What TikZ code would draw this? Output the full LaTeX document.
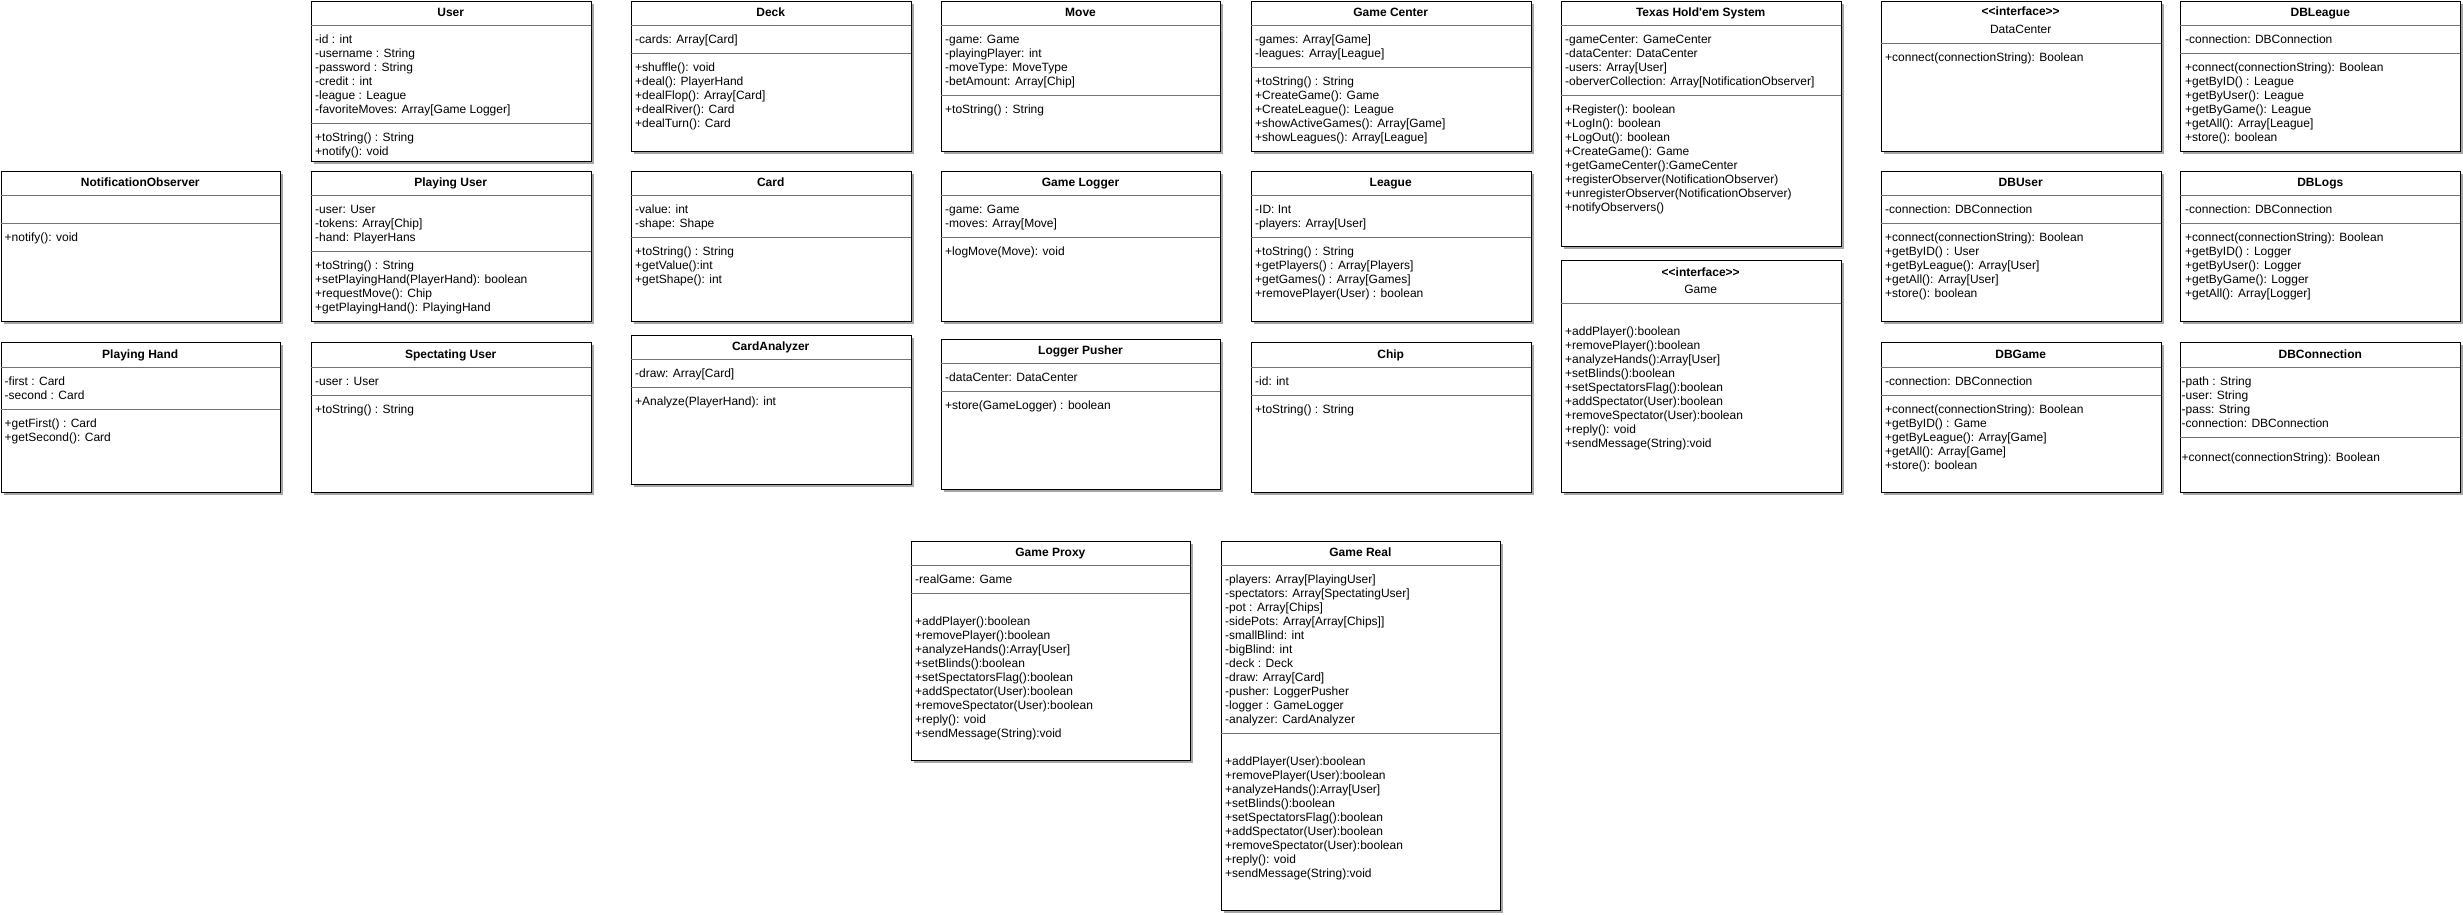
\documentclass[tikz,border=0pt]{standalone}
\usepackage{fontspec}
\setmainfont{Liberation Sans}
\begin{document}
\begin{tikzpicture}[x=1pt,y=-1pt,
  boxst/.style={draw=black,line width=1pt,fill=white,inner sep=0pt,rectangle},
  shadowc/.style={fill=black!35},
  sepst/.style={draw=black!55,line width=0.8pt},
  titlest/.style={anchor=base,inner sep=0pt,font=\fontsize{12}{14}\selectfont\bfseries},
  namest/.style={anchor=base,inner sep=0pt,font=\fontsize{12}{14}\selectfont},
  txtst/.style={anchor=base west,inner sep=0pt,font=\fontsize{12}{14}\selectfont}]
\newcommand\ubox[5]{%
  \fill[shadowc] ({#2+3},{#3+3}) rectangle ({#4+3},{#5+3});
  \node[boxst,anchor=north west,minimum width={#4-#2},minimum height={#5-#3}] (#1) at (#2,#3) {};}
\newcommand\usep[3]{\draw[sepst] (#1,#3) -- (#2,#3);}
\newcommand\utitle[5]{\node[titlest] (#1-t) at ({(#2+#3)/2},{#4+4.2}) {#5};}
\newcommand\ulines[4]{%
  \foreach \mytxt [count=\c] in {#4} {\node[txtst] (#1-\c) at (#2,{#3+4.2+(\c-1)*14}) {\mytxt};}}

\fill[white] (0,0) rectangle (2463,914);
\useasboundingbox (0,0) rectangle (2463,914);

% ---------------- Row 1 ----------------
% User
\ubox{user}{310.7}{0.5}{590.7}{160.7}
\utitle{user}{310.7}{590.7}{12.2}{User}
\usep{310.7}{590.7}{25.3}
\ulines{user-a}{315}{39.3}{{-id : int},{-username : String},{-password : String},{-credit : int},{-league : League},{-favoriteMoves: Array[Game Logger]}}
\usep{310.7}{590.7}{123.3}
\ulines{user-m}{315}{137.3}{{+toString() : String},{+notify(): void}}

% Deck
\ubox{deck}{630.7}{0.5}{910.7}{150.7}
\utitle{deck}{630.7}{910.7}{12.2}{Deck}
\usep{630.7}{910.7}{25.3}
\ulines{deck-a}{635}{39.3}{{-cards: Array[Card]}}
\usep{630.7}{910.7}{53.3}
\ulines{deck-m}{635}{67.3}{{+shuffle(): void},{+deal(): PlayerHand},{+dealFlop(): Array[Card]},{+dealRiver(): Card},{+dealTurn(): Card}}

% Move
\ubox{move}{940.7}{0.5}{1220.3}{150.7}
\utitle{move}{940.7}{1220.3}{12.2}{Move}
\usep{940.7}{1220.3}{25.3}
\ulines{move-a}{945}{39.3}{{-game: Game},{-playingPlayer: int},{-moveType: MoveType},{-betAmount: Array[Chip]}}
\usep{940.7}{1220.3}{95.3}
\ulines{move-m}{945}{109.3}{{+toString() : String}}

% Game Center
\ubox{gc}{1250.7}{0.5}{1530.7}{150.7}
\utitle{gc}{1250.7}{1530.7}{12.2}{Game Center}
\usep{1250.7}{1530.7}{25.3}
\ulines{gc-a}{1255}{39.3}{{-games: Array[Game]},{-leagues: Array[League]}}
\usep{1250.7}{1530.7}{67.3}
\ulines{gc-m}{1255}{81.3}{{+toString() : String},{+CreateGame(): Game},{+CreateLeague(): League},{+showActiveGames(): Array[Game]},{+showLeagues(): Array[League]}}

% Texas Hold'em System
\ubox{ths}{1560.7}{0.5}{1840.7}{245.7}
\utitle{ths}{1560.7}{1840.7}{12.2}{Texas Hold\textquotesingle em System}
\usep{1560.7}{1840.7}{25.3}
\ulines{ths-a}{1565}{39.3}{{-gameCenter: GameCenter},{-dataCenter: DataCenter},{-users: Array[User]},{-oberverCollection: Array[NotificationObserver]}}
\usep{1560.7}{1840.7}{95.3}
\ulines{ths-m}{1565}{109.3}{{+Register(): boolean},{+LogIn(): boolean},{+LogOut(): boolean},{+CreateGame(): Game},{+getGameCenter():GameCenter},{+registerObserver(NotificationObserver)},{+unregisterObserver(NotificationObserver)},{+notifyObservers()}}

% DataCenter interface
\ubox{dc}{1880.7}{0.5}{2160.7}{150.7}
\utitle{dc}{1880.7}{2160.7}{11.7}{<{}<interface>{}>}
\node[namest] (dc-n) at (2020.7,33.5) {DataCenter};
\usep{1880.7}{2160.7}{43.3}
\ulines{dc-m}{1885}{57.5}{{+connect(connectionString): Boolean}}

% DBLeague
\ubox{dbl}{2180.3}{0.5}{2460.3}{150.7}
\utitle{dbl}{2180.3}{2460.3}{12.2}{DBLeague}
\usep{2180.3}{2460.3}{25.3}
\ulines{dbl-a}{2185}{39.3}{{-connection: DBConnection}}
\usep{2180.3}{2460.3}{53.3}
\ulines{dbl-m}{2185}{67.3}{{+connect(connectionString): Boolean},{+getByID() : League},{+getByUser(): League},{+getByGame(): League},{+getAll(): Array[League]},{+store(): boolean}}

% ---------------- Row 2 ----------------
% NotificationObserver
\ubox{no}{0.5}{170.7}{280}{320.5}
\utitle{no}{0.5}{280}{182.5}{NotificationObserver}
\usep{0.5}{280}{195.3}
\usep{0.5}{280}{223.3}
\ulines{no-m}{4.5}{237.5}{{+notify(): void}}

% Playing User
\ubox{pu}{310.7}{170.7}{590.7}{320.7}
\utitle{pu}{310.7}{590.7}{182.5}{Playing User}
\usep{310.7}{590.7}{195.3}
\ulines{pu-a}{315}{209.3}{{-user: User},{-tokens: Array[Chip]},{-hand: PlayerHans}}
\usep{310.7}{590.7}{251.5}
\ulines{pu-m}{315}{265.5}{{+toString() : String},{+setPlayingHand(PlayerHand): boolean},{+requestMove(): Chip},{+getPlayingHand(): PlayingHand}}

% Card
\ubox{card}{630.7}{170.7}{910.7}{320.7}
\utitle{card}{630.7}{910.7}{182.5}{Card}
\usep{630.7}{910.7}{195.3}
\ulines{card-a}{635}{209.3}{{-value: int},{-shape: Shape}}
\usep{630.7}{910.7}{237.5}
\ulines{card-m}{635}{251.5}{{+toString() : String},{+getValue():int},{+getShape(): int}}

% Game Logger
\ubox{gl}{940.7}{170.7}{1220.3}{320.7}
\utitle{gl}{940.7}{1220.3}{182.5}{Game Logger}
\usep{940.7}{1220.3}{195.3}
\ulines{gl-a}{945}{209.3}{{-game: Game},{-moves: Array[Move]}}
\usep{940.7}{1220.3}{237.5}
\ulines{gl-m}{945}{251.5}{{+logMove(Move): void}}

% League
\ubox{lg}{1250.7}{170.7}{1530.7}{320.7}
\utitle{lg}{1250.7}{1530.7}{182.5}{League}
\usep{1250.7}{1530.7}{195.3}
\ulines{lg-a}{1255}{209.3}{{-ID: Int},{-players: Array[User]}}
\usep{1250.7}{1530.7}{237.5}
\ulines{lg-m}{1255}{251.5}{{+toString() : String},{+getPlayers() : Array[Players]},{+getGames() : Array[Games]},{+removePlayer(User) : boolean}}

% DBUser
\ubox{dbu}{1880.7}{170.7}{2160.7}{320.7}
\utitle{dbu}{1880.7}{2160.7}{182.5}{DBUser}
\usep{1880.7}{2160.7}{195.3}
\ulines{dbu-a}{1885}{209.5}{{-connection: DBConnection}}
\usep{1880.7}{2160.7}{223.3}
\ulines{dbu-m}{1885}{237.5}{{+connect(connectionString): Boolean},{+getByID() : User},{+getByLeague(): Array[User]},{+getAll(): Array[User]},{+store(): boolean}}

% DBLogs
\ubox{dblg}{2180.3}{170.7}{2460.3}{320.7}
\utitle{dblg}{2180.3}{2460.3}{182.5}{DBLogs}
\usep{2180.3}{2460.3}{195.3}
\ulines{dblg-a}{2185}{209.5}{{-connection: DBConnection}}
\usep{2180.3}{2460.3}{223.3}
\ulines{dblg-m}{2185}{237.5}{{+connect(connectionString): Boolean},{+getByID() : Logger},{+getByUser(): Logger},{+getByGame(): Logger},{+getAll(): Array[Logger]}}

% ---------------- Row 3 ----------------
% Playing Hand
\ubox{ph}{0.5}{341.7}{280}{491.7}
\utitle{ph}{0.5}{280}{354}{Playing Hand}
\usep{0.5}{280}{367.3}
\ulines{ph-a}{4.5}{381}{{-first : Card},{-second : Card}}
\usep{0.5}{280}{409.2}
\ulines{ph-m}{4.5}{423.4}{{+getFirst() : Card},{+getSecond(): Card}}

% Spectating User
\ubox{su}{310.7}{342}{590.7}{492}
\utitle{su}{310.7}{590.7}{354.2}{Spectating User}
\usep{310.7}{590.7}{367.3}
\ulines{su-a}{315}{381.3}{{-user : User}}
\usep{310.7}{590.7}{395.5}
\ulines{su-m}{315}{409.3}{{+toString() : String}}

% CardAnalyzer
\ubox{ca}{630.7}{334.7}{910.7}{484.3}
\utitle{ca}{630.7}{910.7}{346.2}{CardAnalyzer}
\usep{630.7}{910.7}{359.3}
\ulines{ca-a}{635}{373.3}{{-draw: Array[Card]}}
\usep{630.7}{910.7}{387.5}
\ulines{ca-m}{635}{401.3}{{+Analyze(PlayerHand): int}}

% Logger Pusher
\ubox{lp}{940.7}{338.7}{1220.3}{488.7}
\utitle{lp}{940.7}{1220.3}{350.5}{Logger Pusher}
\usep{940.7}{1220.3}{363.3}
\ulines{lp-a}{945}{377.3}{{-dataCenter: DataCenter}}
\usep{940.7}{1220.3}{391.5}
\ulines{lp-m}{945}{405.3}{{+store(GameLogger) : boolean}}

% Chip
\ubox{chip}{1250.7}{342.3}{1530.7}{492}
\utitle{chip}{1250.7}{1530.7}{354.2}{Chip}
\usep{1250.7}{1530.7}{367.3}
\ulines{chip-a}{1255}{381.3}{{-id: int}}
\usep{1250.7}{1530.7}{395.5}
\ulines{chip-m}{1255}{409.3}{{+toString() : String}}

% Game interface
\ubox{game}{1560.7}{260.3}{1840.7}{492}
\utitle{game}{1560.7}{1840.7}{272}{<{}<interface>{}>}
\node[namest] (game-n) at (1700.7,293.5) {Game};
\usep{1560.7}{1840.7}{303.3}
\ulines{game-m}{1565}{331.7}{{+addPlayer():boolean},{+removePlayer():boolean},{+analyzeHands():Array[User]},{+setBlinds():boolean},{+setSpectatorsFlag():boolean},{+addSpectator(User):boolean},{+removeSpectator(User):boolean},{+reply(): void},{+sendMessage(String):void}}

% DBGame
\ubox{dbg}{1880.7}{342.3}{2160.7}{492}
\utitle{dbg}{1880.7}{2160.7}{354.2}{DBGame}
\usep{1880.7}{2160.7}{367.3}
\ulines{dbg-a}{1885}{381.3}{{-connection: DBConnection}}
\usep{1880.7}{2160.7}{395.5}
\ulines{dbg-m}{1885}{409.3}{{+connect(connectionString): Boolean},{+getByID() : Game},{+getByLeague(): Array[Game]},{+getAll(): Array[Game]},{+store(): boolean}}

% DBConnection
\ubox{dbc}{2180.3}{342.3}{2460.3}{492}
\utitle{dbc}{2180.3}{2460.3}{354.2}{DBConnection}
\usep{2180.3}{2460.3}{367.3}
\ulines{dbc-a}{2181.5}{381.3}{{-path : String},{-user: String},{-pass: String},{-connection: DBConnection}}
\usep{2180.3}{2460.3}{437.3}
\ulines{dbc-m}{2181.5}{457.3}{{+connect(connectionString): Boolean}}

% ---------------- Row 4 ----------------
% Game Proxy
\ubox{gp}{910.7}{540.7}{1190}{760}
\utitle{gp}{910.7}{1190}{552.5}{Game Proxy}
\usep{910.7}{1190}{565.3}
\ulines{gp-a}{915}{579.5}{{-realGame: Game}}
\usep{910.7}{1190}{593.3}
\ulines{gp-m}{915}{621}{{+addPlayer():boolean},{+removePlayer():boolean},{+analyzeHands():Array[User]},{+setBlinds():boolean},{+setSpectatorsFlag():boolean},{+addSpectator(User):boolean},{+removeSpectator(User):boolean},{+reply(): void},{+sendMessage(String):void}}

% Game Real
\ubox{gr}{1220.7}{540.7}{1500}{910}
\utitle{gr}{1220.7}{1500}{552.5}{Game Real}
\usep{1220.7}{1500}{565.3}
\ulines{gr-a}{1225}{579.5}{{-players: Array[PlayingUser]},{-spectators: Array[SpectatingUser]},{-pot : Array[Chips]},{-sidePots: Array[Array[Chips]]},{-smallBlind: int},{-bigBlind: int},{-deck : Deck},{-draw: Array[Card]},{-pusher: LoggerPusher},{-logger : GameLogger},{-analyzer: CardAnalyzer}}
\usep{1220.7}{1500}{733.5}
\ulines{gr-m}{1225}{761.2}{{+addPlayer(User):boolean},{+removePlayer(User):boolean},{+analyzeHands():Array[User]},{+setBlinds():boolean},{+setSpectatorsFlag():boolean},{+addSpectator(User):boolean},{+removeSpectator(User):boolean},{+reply(): void},{+sendMessage(String):void}}
\end{tikzpicture}
\end{document}
